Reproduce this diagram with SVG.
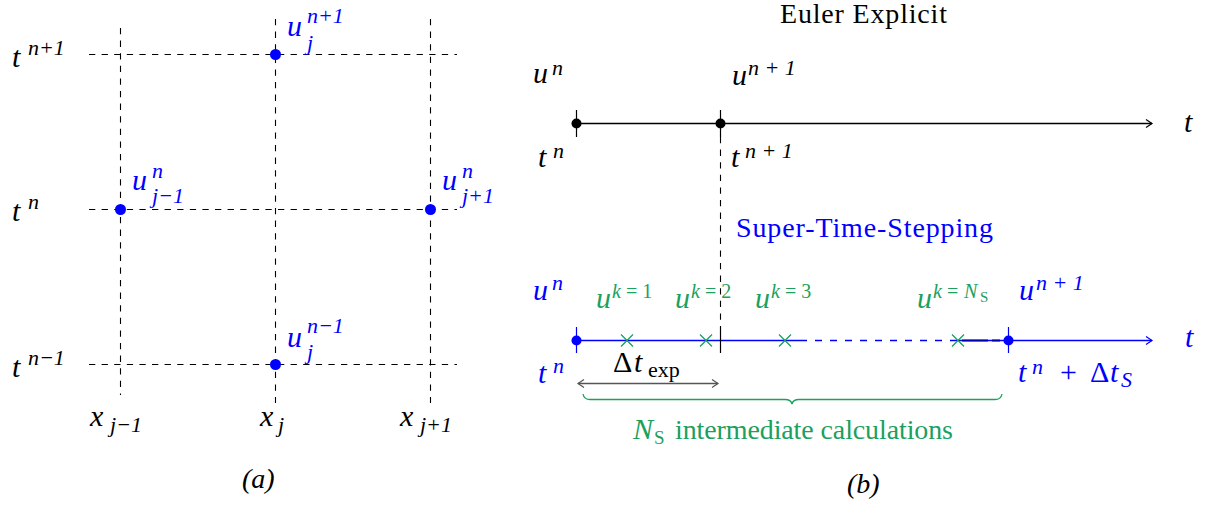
<svg xmlns="http://www.w3.org/2000/svg" width="1208" height="506" viewBox="0 0 1208 506" font-family="Times New Roman, Liberation Serif, Tinos, Nimbus Roman, FreeSerif, serif">
<style>
.m{font-style:italic;font-size:30px}
.rm{font-size:28px}
.sp{font-size:22px}
.ss{font-size:20px}
.up{font-style:normal}
.blk{fill:#000}
.blu{fill:#0000ff}
.grn{fill:#1ba05e}
.dash{stroke:#000;stroke-width:1.1;stroke-dasharray:6.3 6.3;fill:none}
.cross{stroke:#1ba05e;stroke-width:1.3;fill:none}
</style>
<defs>
<marker id="ab" markerUnits="userSpaceOnUse" markerWidth="10" markerHeight="10" refX="8" refY="5" orient="auto"><path d="M2,1 L8,5 L2,9" fill="none" stroke="#000" stroke-width="1.2"/></marker>
<marker id="au" markerUnits="userSpaceOnUse" markerWidth="10" markerHeight="10" refX="8" refY="5" orient="auto"><path d="M2,1 L8,5 L2,9" fill="none" stroke="#0000ff" stroke-width="1.2"/></marker>
<marker id="ag" markerUnits="userSpaceOnUse" markerWidth="10" markerHeight="10" refX="8" refY="5" orient="auto-start-reverse"><path d="M2,1 L8,5 L2,9" fill="none" stroke="#555" stroke-width="1.2"/></marker>
</defs>

<g id="connectors">
<line class="dash" x1="120.5" y1="28" x2="120.5" y2="395"/>
<line class="dash" x1="275.5" y1="19" x2="275.5" y2="403"/>
<line class="dash" x1="430.5" y1="19" x2="430.5" y2="403"/>
<line class="dash" x1="89" y1="54.5" x2="457" y2="54.5"/>
<line class="dash" x1="89" y1="209.5" x2="457" y2="209.5"/>
<line class="dash" x1="89" y1="364.5" x2="457" y2="364.5"/>

<line x1="576" y1="123.5" x2="1152" y2="123.5" stroke="#000" stroke-width="1.3" marker-end="url(#ab)"/>
<line x1="576.5" y1="110" x2="576.5" y2="137" stroke="#000" stroke-width="1.2"/>
<line x1="720.5" y1="110" x2="720.5" y2="137" stroke="#000" stroke-width="1.2"/>
<line class="dash" x1="720.5" y1="137" x2="720.5" y2="327"/>

<line x1="576" y1="340.5" x2="800" y2="340.5" stroke="#0000ff" stroke-width="1.3"/>
<line x1="800" y1="340.5" x2="958" y2="340.5" stroke="#0000ff" stroke-width="1.3" stroke-dasharray="7 8"/>
<line x1="958" y1="340.5" x2="1152" y2="340.5" stroke="#0000ff" stroke-width="1.3" marker-end="url(#au)"/>
<line x1="962" y1="340.5" x2="1000" y2="340.5" stroke="#0000aa" stroke-width="1.8" stroke-dasharray="26 4"/>
<line x1="576.5" y1="327" x2="576.5" y2="353" stroke="#0000ff" stroke-width="1.2"/>
<line x1="1008.5" y1="327" x2="1008.5" y2="353" stroke="#0000ff" stroke-width="1.2"/>
<line x1="720.5" y1="327" x2="720.5" y2="353" stroke="#000" stroke-width="1.2"/>

<line x1="578" y1="383.5" x2="718" y2="383.5" stroke="#555" stroke-width="1.4" marker-start="url(#ag)" marker-end="url(#ag)"/>

<path d="M583,394 Q584,399.5 590,399.5 L785,399.5 Q791,399.5 792,404 Q793,399.5 799,399.5 L995,399.5 Q1001,399.5 1002,394" fill="none" stroke="#1ba05e" stroke-width="1.3"/>
</g>

<g id="pt-j-np1"><circle cx="275.5" cy="54.5" r="5.5" fill="#0000ff"/>
<text class="m blu"><tspan x="287" y="36">u</tspan><tspan class="sp" x="307" y="23">n+1</tspan><tspan class="sp" x="307" y="50">j</tspan></text></g>
<g id="pt-jm1-n"><circle cx="120.5" cy="209.5" r="5.5" fill="#0000ff"/>
<text class="m blu"><tspan x="132" y="190">u</tspan><tspan class="sp" x="152" y="178">n</tspan><tspan class="sp" x="152" y="203">j−1</tspan></text></g>
<g id="pt-jp1-n"><circle cx="430.5" cy="209.5" r="5.5" fill="#0000ff"/>
<text class="m blu"><tspan x="442" y="190">u</tspan><tspan class="sp" x="462" y="178">n</tspan><tspan class="sp" x="462" y="203">j+1</tspan></text></g>
<g id="pt-j-nm1"><circle cx="275.5" cy="364.5" r="5.5" fill="#0000ff"/>
<text class="m blu"><tspan x="287" y="347">u</tspan><tspan class="sp" x="307" y="333">n−1</tspan><tspan class="sp" x="307" y="359">j</tspan></text></g>

<g id="axis-labels-a">
<text class="m blk"><tspan x="12" y="67">t</tspan><tspan class="sp" x="28" y="55">n+1</tspan></text>
<text class="m blk"><tspan x="12" y="221">t</tspan><tspan class="sp" x="28" y="209">n</tspan></text>
<text class="m blk"><tspan x="12" y="377">t</tspan><tspan class="sp" x="28" y="365">n−1</tspan></text>
<text class="m blk"><tspan x="90" y="426">x</tspan><tspan class="sp" x="110" y="432">j−1</tspan></text>
<text class="m blk"><tspan x="260" y="426">x</tspan><tspan class="sp" x="278" y="432">j</tspan></text>
<text class="m blk"><tspan x="400" y="426">x</tspan><tspan class="sp" x="420" y="432">j+1</tspan></text>
<text class="rm blk" font-style="italic" x="242" y="488">(a)</text>
</g>

<g id="euler">
<text class="rm blk" x="780" y="23" textLength="167">Euler Explicit</text>
<circle cx="576.5" cy="123.5" r="5" fill="#000"/>
<circle cx="720.5" cy="123.5" r="5" fill="#000"/>
<text class="m blk"><tspan x="533" y="83">u</tspan><tspan class="sp" x="552" y="75">n</tspan></text>
<text class="m blk"><tspan x="732" y="85">u</tspan><tspan class="sp" x="748" y="75">n + 1</tspan></text>
<text class="m blk"><tspan x="538" y="167">t</tspan><tspan class="sp" x="553" y="158">n</tspan></text>
<text class="m blk"><tspan x="731" y="167">t</tspan><tspan class="sp" x="745" y="158">n + 1</tspan></text>
<text class="m blk" x="1184" y="132">t</text>
</g>

<g id="sts">
<text class="rm blu" x="736" y="237" textLength="257">Super-Time-Stepping</text>
<circle cx="576.5" cy="340.5" r="5" fill="#0000ff"/>
<circle cx="1008.5" cy="340.5" r="5" fill="#0000ff"/>
<text class="m blu"><tspan x="533" y="300">u</tspan><tspan class="sp" x="552" y="290">n</tspan></text>
<text class="m blu"><tspan x="1019" y="300">u</tspan><tspan class="sp" x="1036" y="290">n + 1</tspan></text>
<text class="m blu" x="1185" y="347">t</text>
<text class="m blu"><tspan x="538" y="383">t</tspan><tspan class="sp" x="553" y="373">n</tspan></text>
<text class="m blu"><tspan x="1018" y="382">t</tspan><tspan class="sp" x="1032" y="374">n</tspan><tspan class="up" x="1060" y="382">+</tspan><tspan class="up" x="1090" y="382">Δ</tspan><tspan x="1110" y="382">t</tspan><tspan class="sp" x="1121" y="387">S</tspan></text>
</g>

<g id="intermediates">
<path class="cross" d="M621,334.5 L633,346.5 M633,334.5 L621,346.5"/>
<path class="cross" d="M700,334.5 L712,346.5 M712,334.5 L700,346.5"/>
<path class="cross" d="M779,334.5 L791,346.5 M791,334.5 L779,346.5"/>
<path class="cross" d="M952,334.5 L964,346.5 M964,334.5 L952,346.5"/>
<text class="m grn"><tspan x="596" y="308">u</tspan><tspan class="ss" x="612" y="298">k</tspan><tspan class="ss up" x="626" y="298">= 1</tspan></text>
<text class="m grn"><tspan x="675" y="308">u</tspan><tspan class="ss" x="691" y="298">k</tspan><tspan class="ss up" x="705" y="298">= 2</tspan></text>
<text class="m grn"><tspan x="755" y="308">u</tspan><tspan class="ss" x="771" y="298">k</tspan><tspan class="ss up" x="785" y="298">= 3</tspan></text>
<text class="m grn"><tspan x="917" y="308">u</tspan><tspan class="ss" x="933" y="298">k</tspan><tspan class="ss up" x="947" y="298">=</tspan><tspan class="ss" x="964" y="298">N</tspan><tspan class="up" font-size="15" x="980" y="302">S</tspan></text>
</g>

<g id="dt-exp">
<text class="m blk"><tspan class="up" x="613" y="372">Δ</tspan><tspan x="634" y="372">t</tspan><tspan class="sp up" x="648" y="377">exp</tspan></text>
</g>

<g id="ns-label">
<text class="rm grn"><tspan class="m" x="633" y="439">N</tspan><tspan font-size="19" x="654" y="444">S</tspan><tspan x="675" y="439" textLength="278">intermediate calculations</tspan></text>
</g>

<text class="rm blk" font-style="italic" x="847" y="493">(b)</text>
</svg>
